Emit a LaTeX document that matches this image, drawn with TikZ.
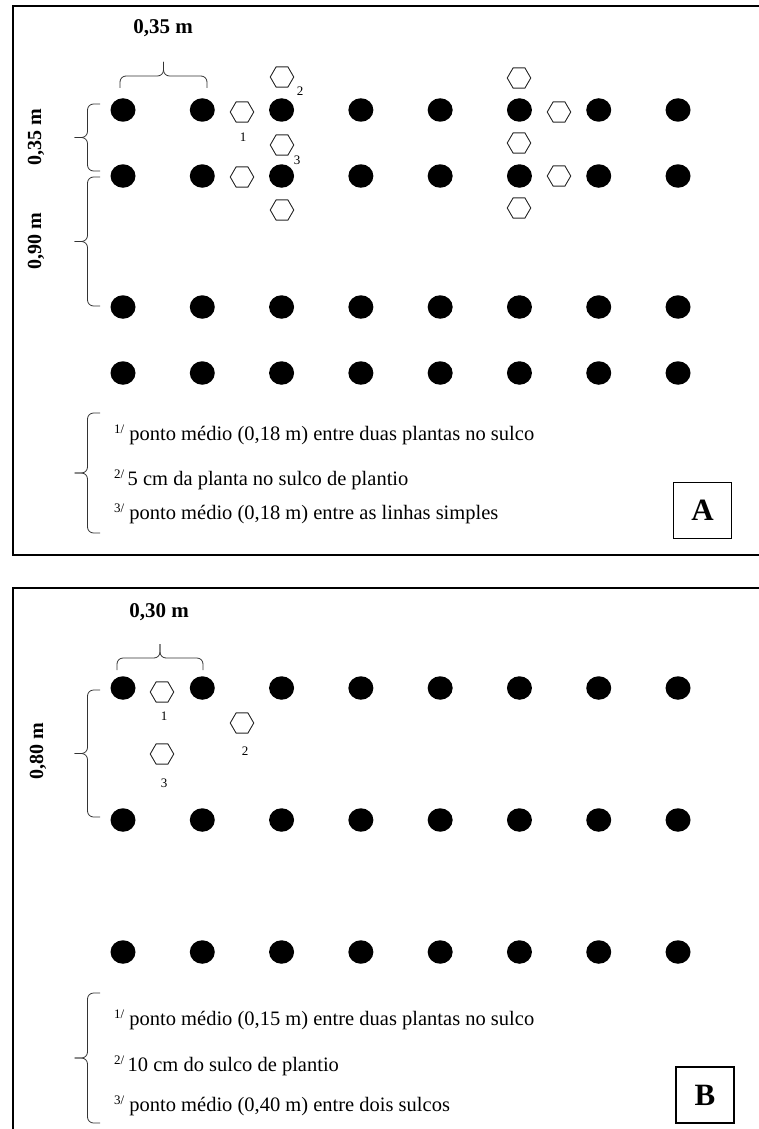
\documentclass[tikz,border=0pt]{standalone}
\usepackage{fontspec}
\setmainfont{Liberation Serif}
\usetikzlibrary{calc,shapes.geometric}
\newcommand{\supmark}[1]{{\fontsize{13}{13}\selectfont\raisebox{7pt}{#1}}}
% left-pointing brace: #1 top hook end, #2 bottom hook end
\newcommand{\mybracel}[2]{%
  \draw[bracestyle] (#1) -- ++(-12.5,0) -- ($(#1)!0.5!(#2)+(-12.5,0)$) -- ++(-13,0);
  \draw[bracestyle] ($(#1)!0.5!(#2)+(-25.5,0)$) -- ++(13,0) -- ($(#2)+(-12.5,0)$) -- (#2);}
% up-pointing brace: #1 left hook end, #2 right hook end
\newcommand{\mybracet}[2]{%
  \draw[bracestyle] (#1) -- ++(0,-12) -- ($(#1)!0.5!(#2)+(0,-12)$) -- ++(0,-14);
  \draw[bracestyle] ($(#1)!0.5!(#2)+(0,-26)$) -- ++(0,14) -- ($(#2)+(0,-12)$) -- (#2);}
\begin{document}
\begin{tikzpicture}[x=1pt,y=-1pt,
  plant/.style={ellipse,fill=black,minimum width=25pt,minimum height=23.5pt,inner sep=0pt},
  hexa/.style={regular polygon,regular polygon sides=6,draw=black!85,line width=0.9pt,minimum size=23.5pt,inner sep=0pt},
  frameline/.style={line width=2.6pt,line cap=rect},
  bracestyle/.style={draw=black!80,line width=0.8pt,rounded corners=6pt},
  toplabel/.style={font=\fontsize{21}{21}\selectfont\bfseries},
  sidelabel/.style={font=\fontsize{20}{20}\selectfont\bfseries,rotate=90},
  hexnum/.style={font=\fontsize{13}{13}\selectfont,inner sep=0pt},
  legend/.style={font=\fontsize{20.5}{20.5}\selectfont,anchor=west,inner sep=0pt},
  letterbox/.style={draw,line width=1.5pt,font=\fontsize{31}{31}\selectfont\bfseries,minimum width=58pt,minimum height=56pt,inner sep=0pt}
]
\useasboundingbox (0,0) rectangle (758,1129);
% frames
\coordinate (fa1) at (13,555);
\coordinate (fa2) at (13,6);
\coordinate (fa3) at (770,6);
\coordinate (fa4) at (770,555);
\draw[frameline] (fa4) -- (fa1) -- (fa2) -- (fa3);
\coordinate (fb1) at (13,1140);
\coordinate (fb2) at (13,588);
\coordinate (fb3) at (770,588);
\draw[frameline] (fb1) -- (fb2) -- (fb3);

% ===== Panel A =====
\foreach \r/\yy in {1/110,2/176,3/307,4/373}{
  \foreach \c in {0,...,7}{
    \node[plant] (a\r c\c) at ({123+79.29*\c},\yy) {};
  }
}
\node[hexa] (ah1) at (242,112) {};
\node[hexa] (ah2) at (282,77) {};
\node[hexa] (ah3) at (282,145) {};
\node[hexa] (ah4) at (242,177) {};
\node[hexa] (ah5) at (282,210) {};
\node[hexa] (ah6) at (519,78) {};
\node[hexa] (ah7) at (519,143) {};
\node[hexa] (ah8) at (519,208) {};
\node[hexa] (ah9) at (559,112) {};
\node[hexa] (ah10) at (559,176) {};
\node[hexnum] (an1) at (243,137) {1};
\node[hexnum] (an2) at (300,91) {2};
\node[hexnum] (an3) at (297,160) {3};

\node[toplabel] (alab) at (163,28) {0,35 m};
\coordinate (atb1) at (120,88);
\coordinate (atb2) at (207,88);
\mybracet{atb1}{atb2}

\coordinate (alb1t) at (100,104);
\coordinate (alb1b) at (100,171);
\mybracel{alb1t}{alb1b}
\node[sidelabel] (als1) at (36,137) {0,35 m};
\coordinate (alb2t) at (100,177);
\coordinate (alb2b) at (100,306);
\mybracel{alb2t}{alb2b}
\node[sidelabel] (als2) at (36,241) {0,90 m};

\coordinate (alegt) at (100,413);
\coordinate (alegb) at (100,533);
\mybracel{alegt}{alegb}
\node[legend] (at1) at (114,435) {\supmark{1/} ponto médio (0,18 m) entre duas plantas no sulco};
\node[legend] (at2) at (114,480) {\supmark{2/}\,5 cm da planta no sulco de plantio};
\node[legend] (at3) at (114,514) {\supmark{3/} ponto médio (0,18 m) entre as linhas simples};
\node[letterbox] (abox) at (702.5,510.5) {A};

% ===== Panel B =====
\foreach \r/\yy in {1/688,2/820,3/952}{
  \foreach \c in {0,...,7}{
    \node[plant] (b\r c\c) at ({123+79.29*\c},\yy) {};
  }
}
\node[hexa] (bh1) at (162,692) {};
\node[hexa] (bh2) at (242,723) {};
\node[hexa] (bh3) at (162,754) {};
\node[hexnum] (bn1) at (164,716) {1};
\node[hexnum] (bn2) at (245,751) {2};
\node[hexnum] (bn3) at (164,783) {3};

\node[toplabel] (blab) at (159,612) {0,30 m};
\coordinate (btb1) at (117,670);
\coordinate (btb2) at (203,670);
\mybracet{btb1}{btb2}

\coordinate (blbt) at (100,690);
\coordinate (blbb) at (100,817);
\mybracel{blbt}{blbb}
\node[sidelabel] (bls) at (38,751) {0,80 m};

\coordinate (blegt) at (100,993);
\coordinate (blegb) at (100,1123);
\mybracel{blegt}{blegb}
\node[legend] (bt1) at (114,1020) {\supmark{1/} ponto médio (0,15 m) entre duas plantas no sulco};
\node[legend] (bt2) at (114,1066) {\supmark{2/}\,10 cm do sulco de plantio};
\node[legend] (bt3) at (114,1106) {\supmark{3/} ponto médio (0,40 m) entre dois sulcos};
\node[letterbox] (bbox) at (705,1095) {B};
\end{tikzpicture}
\end{document}
